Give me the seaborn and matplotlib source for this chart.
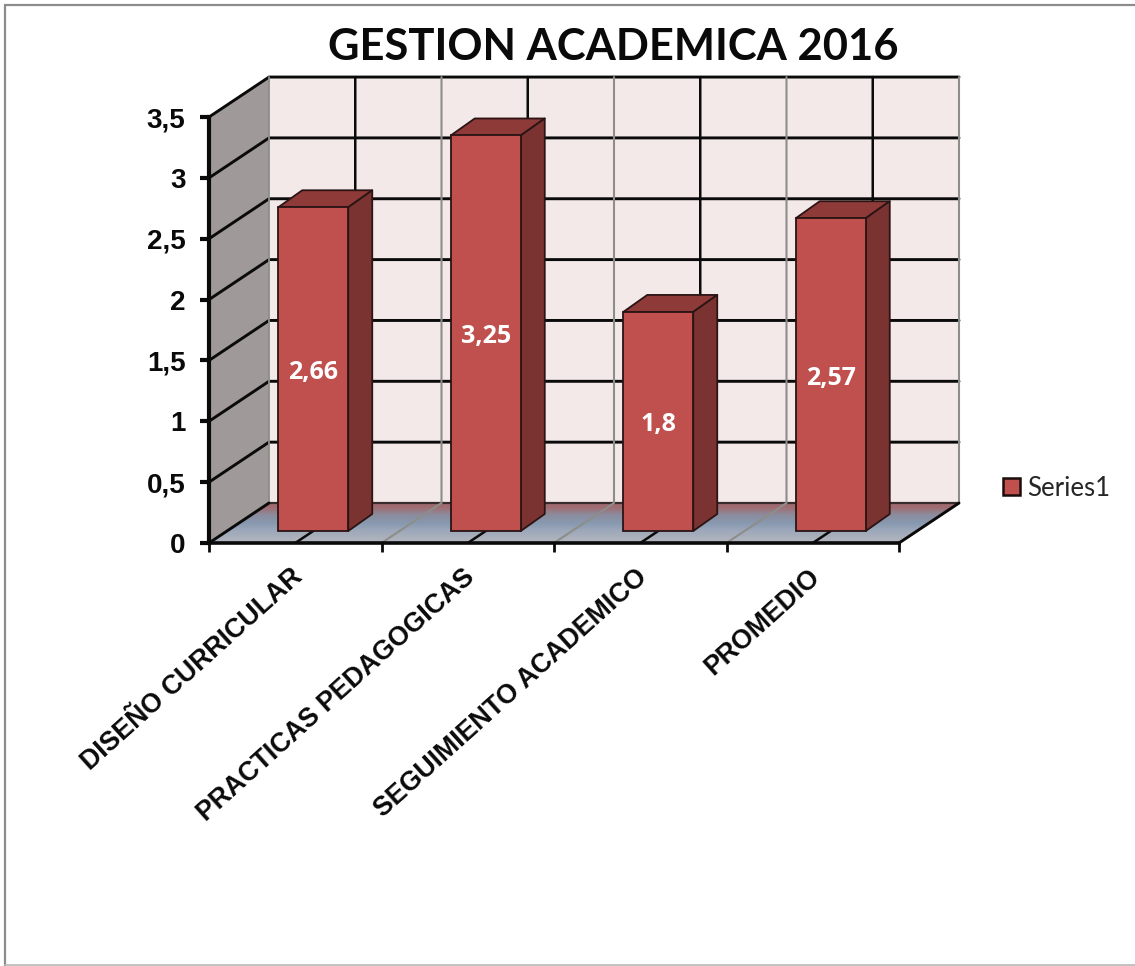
import numpy as np
import pandas as pd
import matplotlib
matplotlib.use("Agg")
import matplotlib.pyplot as plt
from matplotlib.patches import Polygon, Patch
from matplotlib.lines import Line2D
import seaborn as sns

categories = ["DISEÑO CURRICULAR", "PRACTICAS PEDAGOGICAS", "SEGUIMIENTO ACADEMICO", "PROMEDIO"]
values = [2.66, 3.25, 1.8, 2.57]
value_labels = ["2,66", "3,25", "1,8", "2,57"]
y_ticks = [0, 0.5, 1, 1.5, 2, 2.5, 3, 3.5]
y_tick_labels = ["0", "0,5", "1", "1,5", "2", "2,5", "3", "3,5"]
title = "GESTION ACADEMICA 2016"
series_name = "Series1"

W, H = 1135, 966
X0, Y0 = 209, 543          # pixel of the front origin
CAT_PX = 172.5             # pixels per category
VAL_PX = 121.7             # pixels per value unit
sx = lambda px: px / CAT_PX
sy = lambda px: px / VAL_PX
WALL_DX, WALL_DY = sx(60), sy(40)
BAR_DX, BAR_DY = sx(18), sy(12)
DEPTH_DX, DEPTH_DY = sx(24), sy(17)
BAR_W = 70 / CAT_PX
LEFT = -0.5
RIGHT = len(categories) - 0.5
TOP = max(y_ticks)

sns.set_theme(style="white")
BLACK = "#0a0a0a"
df = pd.DataFrame({"cat": categories, "val": values})

fig = plt.figure(figsize=(W / 100, H / 100), dpi=100, facecolor="white")
ax = fig.add_axes([0, 0, 1, 1])
ax.patch.set_alpha(0)

sns.barplot(data=df, x="cat", y="val", order=categories, color="#C0504D", saturation=1,
            width=BAR_W, edgecolor="#2a1414", linewidth=1.3, zorder=6, ax=ax)

xlim = (LEFT - X0 / CAT_PX, LEFT + (W - X0) / CAT_PX)
ylim = ((Y0 - H) / VAL_PX, Y0 / VAL_PX)

# walls
ax.add_patch(Polygon([(LEFT + WALL_DX, WALL_DY), (RIGHT + WALL_DX, WALL_DY),
                      (RIGHT + WALL_DX, TOP + WALL_DY), (LEFT + WALL_DX, TOP + WALL_DY)],
                     fc="#F4E9E9", ec="none", zorder=1))
ax.add_patch(Polygon([(LEFT, 0), (LEFT + WALL_DX, WALL_DY), (LEFT + WALL_DX, TOP + WALL_DY), (LEFT, TOP)],
                     fc="#A09999", ec="none", zorder=1))
floor = Polygon([(LEFT, 0), (RIGHT, 0), (RIGHT + WALL_DX, WALL_DY), (LEFT + WALL_DX, WALL_DY)],
                fc="none", ec="none", zorder=1)
ax.add_patch(floor)
grad = np.array([[0.63, 0.42, 0.44], [0.55, 0.55, 0.62], [0.53, 0.60, 0.69],
                 [0.62, 0.66, 0.73], [0.68, 0.70, 0.74]]).reshape(5, 1, 3)
im = ax.imshow(grad, extent=(LEFT, RIGHT + WALL_DX, 0, WALL_DY), aspect="auto",
               interpolation="bilinear", zorder=1)
im.set_clip_path(floor)

# gridlines on the left wall and the back wall
for v in y_ticks[1:]:
    ax.plot([LEFT, LEFT + WALL_DX, RIGHT + WALL_DX], [v, v + WALL_DY, v + WALL_DY],
            color=BLACK, lw=2.1, zorder=2, solid_joinstyle="miter")
ax.plot([LEFT + WALL_DX, RIGHT + WALL_DX], [WALL_DY, WALL_DY], color="#3a2c2c", lw=1.6, zorder=2)
ax.plot([LEFT + WALL_DX, LEFT + WALL_DX], [WALL_DY, TOP + WALL_DY], color="#8d8d8a", lw=1.3, zorder=2)
for i in range(len(categories)):
    # category centre: dark, category boundary: grey
    ax.plot([i, i + WALL_DX, i + WALL_DX], [0, WALL_DY, TOP + WALL_DY], color=BLACK, lw=1.8, zorder=2)
    ax.plot([i + 0.5, i + 0.5 + WALL_DX, i + 0.5 + WALL_DX], [0, WALL_DY, TOP + WALL_DY],
            color="#8d8d8a", lw=1.5, zorder=2)
ax.plot([LEFT, LEFT + WALL_DX], [0, WALL_DY], color=BLACK, lw=2.1, zorder=3)
ax.plot([RIGHT, RIGHT + WALL_DX], [0, WALL_DY], color=BLACK, lw=2.1, zorder=3)

# 3-D faces of the bars, shift of the seaborn bars
for bar, v, lab in zip(ax.patches[:], values, value_labels):
    if bar.get_height() != v:
        continue
    bar.set_x(bar.get_x() + BAR_DX)
    bar.set_y(BAR_DY)
    x0, x1 = bar.get_x(), bar.get_x() + bar.get_width()
    y0, y1 = BAR_DY, BAR_DY + v
    ax.add_patch(Polygon([(x0, y1), (x1, y1), (x1 + DEPTH_DX, y1 + DEPTH_DY), (x0 + DEPTH_DX, y1 + DEPTH_DY)],
                         fc="#8E3A38", ec="#2a1414", lw=1.3, zorder=5, joinstyle="round"))
    ax.add_patch(Polygon([(x1, y0), (x1 + DEPTH_DX, y0 + DEPTH_DY), (x1 + DEPTH_DX, y1 + DEPTH_DY), (x1, y1)],
                         fc="#7A3331", ec="#2a1414", lw=1.3, zorder=5, joinstyle="round"))
    ax.annotate(lab, ((x0 + x1) / 2, (y0 + y1) / 2), xytext=(0, -2.5), textcoords="offset points",
                color="white", ha="center", va="center",
                fontsize=18, fontweight="bold", family="Open Sans", zorder=7)

# axes
ax.set_xlim(xlim)
ax.set_ylim(ylim)
for s in ("top", "right"):
    ax.spines[s].set_visible(False)
ax.spines["left"].set_position(("data", LEFT))
ax.spines["left"].set_bounds(0, TOP)
ax.spines["left"].set_linewidth(3)
ax.spines["left"].set_color(BLACK)
ax.spines["left"].set_zorder(8)
ax.spines["bottom"].set_position(("data", 0))
ax.spines["bottom"].set_bounds(LEFT, RIGHT)
ax.spines["bottom"].set_linewidth(2.6)
ax.spines["bottom"].set_color(BLACK)
ax.spines["bottom"].set_zorder(8)

ax.set_yticks(y_ticks, labels=y_tick_labels)
ax.tick_params(axis="y", left=True, length=6.5, width=3, color=BLACK, pad=10.5, labelsize=20, labelcolor=BLACK)
for t in ax.get_yticklabels():
    t.set_fontfamily("Liberation Sans")
    t.set_fontweight("bold")

ax.set_xticks(np.arange(len(categories) + 1) - 0.5, labels=[""] * (len(categories) + 1))
ax.tick_params(axis="x", which="major", bottom=True, length=6.5, width=2, color=BLACK)
ax.set_xticks(np.arange(len(categories)) - sx(5), labels=categories, minor=True)
ax.tick_params(axis="x", which="minor", bottom=False, length=0, pad=15)
for t in ax.get_xticklabels(minor=True):
    t.set_rotation(42)
    t.set_ha("right")
    t.set_rotation_mode("anchor")
    t.set_fontfamily("Liberation Sans")
    t.set_fontweight("bold")
    t.set_fontsize(19.3)
    t.set_color(BLACK)
ax.set_xlabel("")
ax.set_ylabel("")
ax.grid(False)

fig.text(613 / W, 1 - 47 / H, title, ha="center", va="center", fontsize=31.3,
         fontweight="bold", family="Lato", color=BLACK)

leg = ax.legend(handles=[Patch(fc="#C0504D", ec="#1a0d0d", lw=1.8, label=series_name)],
                loc="center left", bbox_to_anchor=(1003 / W, 1 - 488 / H), bbox_transform=fig.transFigure,
                frameon=False, prop={"family": "Lato", "size": 18.5},
                handlelength=0.68, handleheight=0.68, handletextpad=0.25, borderpad=0, borderaxespad=0)

# picture frame
fig.add_artist(Line2D([5 / W, 5 / W], [0, 1 - 5 / H], color="#8c8c8c", lw=1.6))
fig.add_artist(Line2D([5 / W, 1], [1 - 5 / H, 1 - 5 / H], color="#8c8c8c", lw=1.6))
fig.add_artist(Line2D([5 / W, 1], [1 - 965 / H, 1 - 965 / H], color="#b8b8b8", lw=1.2))

fig.savefig("out.png", dpi=100)
